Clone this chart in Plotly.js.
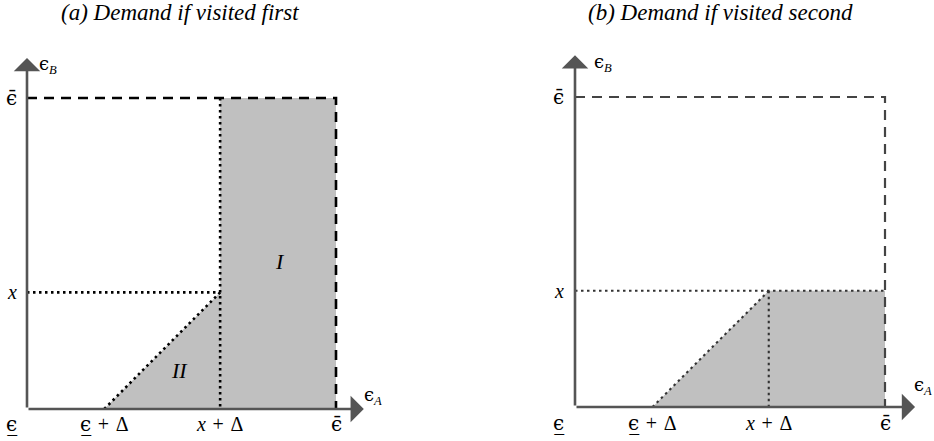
<!DOCTYPE html>
<html>
<head>
<meta charset="utf-8">
<script src="https://cdn.plot.ly/plotly-3.0.1.min.js"></script>
<style>html,body{margin:0;padding:0;background:#fff}#chart{width:934px;height:441px}</style>
</head>
<body>
<div id="chart"></div>
<script>
// Model values (normalised support of the shocks)
const epsLow = 0;        // lower bound of the shock
const epsHigh = 1;       // upper bound of the shock
const xVal = 0.375;      // threshold x
const delta = 0.25;      // shift Δ

// Greek epsilon set in a font that carries the lunate form and combining marks
const EPS = '<span style="font-family:DejaVu Serif">ϵ</span>';
const EPS_LO = '<span style="font-family:DejaVu Serif">ϵ\u0332</span>';
const EPS_HI = '<span style="font-family:DejaVu Serif">ϵ\u0304</span>';
const SP = '\u2004'; // math spacing around binary operators

const panelTitles = ['(a) Demand if visited first', '(b) Demand if visited second'];
const xTickLabels = [EPS_LO, EPS_LO + SP + '+' + SP + 'Δ', '<i>x</i>' + SP + '+' + SP + 'Δ', EPS_HI];
const xTickValues = [epsLow, epsLow + delta, xVal + delta, epsHigh];
const yTickLabels = [EPS_HI, '<i>x</i>'];
const yTickValues = [epsHigh, xVal];
const regionLabels = ['<i>I</i>', '<i>II</i>'];

const W = 934, H = 441;
const SERIF = '"Liberation Serif", "DejaVu Serif", serif';
const GREY_FILL = '#c0c0c0';
const AXIS_COL = '#555555';

// Pixel placement of each panel's origin and unit length
const panels = [
  {ox: 27, oy: 409, ux: 309, uy: 311, dom: [0, 0.5]},
  {ox: 575, oy: 407, ux: 310, uy: 310, dom: [0.5, 1]}
];
function xRange(p) {
  const x0 = p.dom[0] * W, x1 = p.dom[1] * W;
  return [(x0 - p.ox) / p.ux, (x1 - p.ox) / p.ux];
}
function yRange(p) {
  return [-(H - p.oy) / p.uy, p.oy / p.uy];
}

function seg(xs, ys, color, width, dash, xa, ya) {
  return {type: 'scatter', mode: 'lines', x: xs, y: ys, xaxis: xa, yaxis: ya,
          line: {color: color, width: width, dash: dash}, hoverinfo: 'skip', showlegend: false};
}
function poly(xs, ys, xa, ya) {
  return {type: 'scatter', mode: 'lines', x: xs, y: ys, xaxis: xa, yaxis: ya, fill: 'toself',
          fillcolor: GREY_FILL, line: {width: 0, color: GREY_FILL}, hoverinfo: 'skip', showlegend: false};
}

const DASH = '10px,7px';
const DOT = '2.5px,3.5px';

const traces = [
  // (a) visited first
  poly([xVal + delta, epsHigh, epsHigh, xVal + delta], [epsLow, epsLow, epsHigh, epsHigh], 'x', 'y'),
  poly([epsLow + delta, xVal + delta, xVal + delta], [epsLow, xVal, epsLow], 'x', 'y'),
  seg([epsLow, xVal + delta], [xVal, xVal], '#000', 2.6, DOT, 'x', 'y'),
  seg([xVal + delta, xVal + delta], [epsHigh, epsLow], '#000', 2.6, DOT, 'x', 'y'),
  seg([epsLow + delta, xVal + delta], [epsLow, xVal], '#000', 2.6, DOT, 'x', 'y'),
  seg([epsLow, epsHigh, epsHigh], [epsHigh, epsHigh, epsLow], '#000', 2.6, DASH, 'x', 'y'),
  // (b) visited second
  poly([epsLow + delta, xVal + delta, epsHigh, epsHigh], [epsLow, xVal, xVal, epsLow], 'x2', 'y2'),
  seg([epsLow, epsHigh], [xVal, xVal], '#333', 2.1, DOT, 'x2', 'y2'),
  seg([xVal + delta, xVal + delta], [xVal, epsLow], '#333', 2.1, DOT, 'x2', 'y2'),
  seg([epsLow + delta, xVal + delta], [epsLow, xVal], '#333', 2.1, DOT, 'x2', 'y2'),
  seg([epsLow, epsHigh, epsHigh], [epsHigh, epsHigh, epsLow], '#444', 2.2, DASH, 'x2', 'y2')
];

const annotations = [];
const axisIds = [['x', 'y'], ['x2', 'y2']];
const arrowTips = [[1.09, 1.129], [1.097, 1.135]];
const tickOffsets = [{bx: -0.048, ly: -0.049}, {bx: -0.052, ly: -0.052}];
const epsBPos = [[0.068, 1.106], [0.09, 1.11]];
const epsAPos = [[1.12, 0.042], [1.122, 0.068]];

axisIds.forEach(([xa, ya], i) => {
  // axis arrows
  annotations.push({x: arrowTips[i][0], y: epsLow, ax: epsLow, ay: epsLow, xref: xa, yref: ya, axref: xa, ayref: ya,
    text: '', showarrow: true, arrowhead: 1, arrowsize: 1.7, arrowwidth: 2.6, arrowcolor: AXIS_COL, standoff: 0, startstandoff: 0});
  annotations.push({x: epsLow, y: arrowTips[i][1], ax: epsLow, ay: epsLow, xref: xa, yref: ya, axref: xa, ayref: ya,
    text: '', showarrow: true, arrowhead: 1, arrowsize: 1.7, arrowwidth: 2.6, arrowcolor: AXIS_COL, standoff: 0, startstandoff: 0});
  // tick labels
  xTickValues.forEach((v, k) => {
    annotations.push({x: k === 0 ? tickOffsets[i].ly : v, y: tickOffsets[i].bx, xref: xa, yref: ya, text: xTickLabels[k],
      showarrow: false, xanchor: 'center', yanchor: 'middle', font: {family: SERIF, size: 20, color: '#000'}});
  });
  yTickValues.forEach((v, k) => {
    annotations.push({x: tickOffsets[i].ly, y: v, xref: xa, yref: ya, text: yTickLabels[k],
      showarrow: false, xanchor: 'center', yanchor: 'middle', font: {family: SERIF, size: 20, color: '#000'}});
  });
  annotations.push({x: epsBPos[i][0], y: epsBPos[i][1], xref: xa, yref: ya, text: EPS + '<sub><i>B</i></sub>',
    showarrow: false, xanchor: 'center', yanchor: 'middle', font: {family: SERIF, size: 18, color: '#000'}});
  annotations.push({x: epsAPos[i][0], y: epsAPos[i][1], xref: xa, yref: ya, text: EPS + '<sub><i>A</i></sub>',
    showarrow: false, xanchor: 'center', yanchor: 'middle', font: {family: SERIF, size: 18, color: '#000'}});
  // panel title
  annotations.push({x: [180, 720][i] / W, y: 1 - 13 / H, xref: 'paper', yref: 'paper', text: '<i>' + panelTitles[i] + '</i>',
    showarrow: false, xanchor: 'center', yanchor: 'middle', font: {family: SERIF, size: 23, color: '#000'}});
});
// region labels in panel (a)
annotations.push({x: 0.819, y: 0.473, xref: 'x', yref: 'y', text: regionLabels[0], showarrow: false,
  font: {family: SERIF, size: 22, color: '#000'}});
annotations.push({x: 0.495, y: 0.125, xref: 'x', yref: 'y', text: regionLabels[1], showarrow: false,
  font: {family: SERIF, size: 22, color: '#000'}});

function hiddenAxis(range, domain, anchor) {
  return {range: range, domain: domain, anchor: anchor, visible: false, fixedrange: true};
}

const layout = {
  width: W, height: H,
  margin: {l: 0, r: 0, t: 0, b: 0},
  paper_bgcolor: '#fff', plot_bgcolor: 'rgba(0,0,0,0)',
  showlegend: false,
  xaxis: hiddenAxis(xRange(panels[0]), panels[0].dom, 'y'),
  yaxis: hiddenAxis(yRange(panels[0]), [0, 1], 'x'),
  xaxis2: hiddenAxis(xRange(panels[1]), panels[1].dom, 'y2'),
  yaxis2: hiddenAxis(yRange(panels[1]), [0, 1], 'x2'),
  annotations: annotations
};

Plotly.newPlot('chart', traces, layout, {staticPlot: true, displayModeBar: false});
</script>
</body>
</html>
